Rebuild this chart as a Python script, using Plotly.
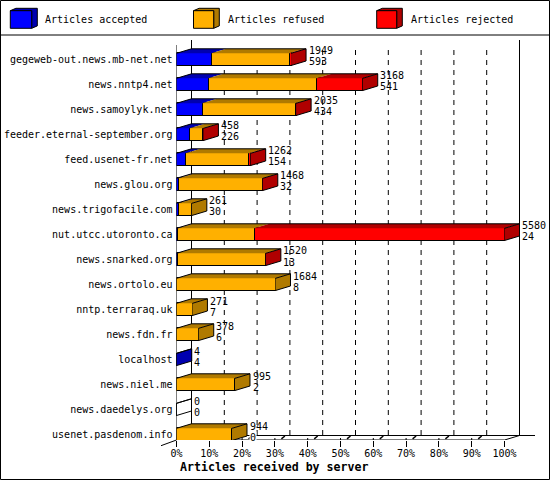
import plotly.graph_objects as go

servers = ["gegeweb-out.news.mb-net.net", "news.nntp4.net", "news.samoylyk.net",
           "feeder.eternal-september.org", "feed.usenet-fr.net", "news.glou.org",
           "news.trigofacile.com", "nut.utcc.utoronto.ca", "news.snarked.org",
           "news.ortolo.eu", "nntp.terraraq.uk", "news.fdn.fr", "localhost",
           "news.niel.me", "news.daedelys.org", "usenet.pasdenom.info"]
totals = [1949, 3168, 2035, 458, 1262, 1468, 261, 5580, 1520, 1684, 271, 378, 4, 995, 0, 944]
accepted = [593, 541, 434, 226, 154, 32, 30, 24, 13, 8, 7, 6, 4, 2, 0, 0]
refused = [1326, 1844, 1591, 222, 1078, 1426, 231, 1300, 1497, 1676, 264, 372, 0, 993, 0, 944]
rejected = [30, 783, 10, 10, 30, 10, 0, 4256, 10, 0, 0, 0, 0, 0, 0, 0]
series_names = ["Articles accepted", "Articles refused", "Articles rejected"]
front_colors = ["#0000ff", "#ffb000", "#ff0000"]
shade_colors = ["#0000b0", "#b07a00", "#b00000"]
pct_ticks = [0, 10, 20, 30, 40, 50, 60, 70, 80, 90, 100]

MAX_VAL = 5580
W, H = 550, 480
FONT = "DejaVu Sans Mono"

# pixel frame of the plot, the chart is laid out by hand like the old gd image
X0, X100, X_END = 176.5, 504.5, 535
Y_TOP, Y_FLOOR = 38, 440
ROW_PX, ROW0_PX = 25, 59.4
BAR_H = 0.488
ART_PER_PX = MAX_VAL / (X100 - X0)
DX = 15 * ART_PER_PX   # depth of the 3d effect in articles
DY = 4.5 / ROW_PX      # and in rows


def row_of(py):
    return (py - ROW0_PX) / ROW_PX


def px(x):
    return x / W


def py(y):
    return 1 - y / H


rows = list(range(len(servers)))
floor = row_of(Y_FLOOR)
x_max = (X_END - X0) * ART_PER_PX

fig = go.Figure()

# front faces
for vals, name, col in zip([accepted, refused, rejected], series_names, front_colors):
    fig.add_trace(go.Bar(y=rows, x=vals, name=name, orientation="h", width=BAR_H,
                         marker=dict(color=col, line=dict(color="black", width=1)),
                         showlegend=False))

# top and side faces
tops = [dict(x=[], y=[]) for _ in range(3)]
sides = [dict(x=[], y=[]) for _ in range(3)]
outline = dict(x=[], y=[])
for r in rows:
    top = r - BAR_H / 2
    bot = r + BAR_H / 2
    segs = [accepted[r], refused[r], rejected[r]]
    start = 0
    last = None
    for k, v in enumerate(segs):
        if v > 0:
            tops[k]["x"] += [start, start + v, start + v + DX, start + DX, start, None]
            tops[k]["y"] += [top, top, top - DY, top - DY, top, None]
            start += v
            last = k
    end = totals[r]
    if last is not None:
        sides[last]["x"] += [end, end + DX, end + DX, end, end, None]
        sides[last]["y"] += [top, top - DY, bot - DY, bot, top, None]
    outline["x"] += [0, DX, end + DX, end, None, end + DX, end + DX, end, None]
    outline["y"] += [top, top - DY, top - DY, top, None, top - DY, bot - DY, bot, None]

for k in range(3):
    for face in (tops[k], sides[k]):
        if face["x"]:
            fig.add_trace(go.Scatter(x=face["x"], y=face["y"], mode="lines", fill="toself",
                                     fillcolor=shade_colors[k], line=dict(width=0),
                                     hoverinfo="skip", showlegend=False))
fig.add_trace(go.Scatter(x=outline["x"], y=outline["y"], mode="lines",
                         line=dict(color="black", width=1),
                         hoverinfo="skip", showlegend=False))

shapes = []


def line(x0, y0, x1, y1, width=1, dash="solid", xref="x", yref="y", layer="below"):
    shapes.append(dict(type="line", x0=x0, y0=y0, x1=x1, y1=y1, xref=xref, yref=yref,
                       layer=layer, line=dict(color="black", width=width, dash=dash)))


# walls and floor
line(0, row_of(45), 0, floor)
line(DX, row_of(40), DX, floor - DY)
line(MAX_VAL + DX, row_of(40), MAX_VAL + DX, floor - DY)
line(0, floor, MAX_VAL, floor)
line(DX, floor - DY, x_max, floor - DY)
line(MAX_VAL, floor, MAX_VAL + DX, floor - DY)
line(px(161), py(445.7), px(X0), py(Y_FLOOR), xref="paper", yref="paper")

# dashed grid on the back wall and the small tick hooks on the floor
for p in pct_ticks[1:-1]:
    v = MAX_VAL * p / 100
    line(v + DX, row_of(50), v + DX, floor - DY, dash="5px,5px")
    line(v + 6.5 * ART_PER_PX, row_of(438.8), v + 10 * ART_PER_PX, row_of(436), width=1.5)
    line(v, row_of(438), v, floor)

# frame and legend
shapes.append(dict(type="rect", xref="paper", yref="paper", x0=px(0.5), x1=px(549.5),
                   y0=py(0.5), y1=py(479.5), line=dict(color="black", width=1), layer="above"))
line(px(0), py(35), px(W), py(35), xref="paper", yref="paper", layer="above")
legend_x = [(10.3, 31.7, 43.5), (193.5, 213.7, 226.7), (376.7, 396.7, 409.5)]
annotations = []
for (lx0, lx1, tx), name, col, shade in zip(legend_x, series_names, front_colors, shade_colors):
    ly0, ly1, dx, dy = 10.7, 28.3, 5.6, 2.4
    side = (f"M{px(lx0)},{py(ly0)} L{px(lx0 + dx)},{py(ly0 - dy)} L{px(lx1 + dx)},{py(ly0 - dy)} "
            f"L{px(lx1 + dx)},{py(ly1 - dy)} L{px(lx1)},{py(ly1)} L{px(lx1)},{py(ly0)} Z")
    shapes.append(dict(type="path", path=side, xref="paper", yref="paper", fillcolor=shade,
                       line=dict(color="black", width=1), layer="above"))
    shapes.append(dict(type="rect", xref="paper", yref="paper", x0=px(lx0), x1=px(lx1),
                       y0=py(ly0), y1=py(ly1), fillcolor=col,
                       line=dict(color="black", width=1), layer="above"))
    annotations.append(dict(x=px(tx), y=py(20), xref="paper", yref="paper", text=name,
                            xanchor="left", yanchor="middle", showarrow=False, borderpad=0,
                            font=dict(family=FONT, size=10, color="black")))

# value labels, total on top and accepted below
for r in rows:
    last_row = r == rows[-1]
    for txt, shift in ((totals[r], 8.4), (accepted[r], -2.6)):
        annotations.append(dict(x=totals[r] + DX, y=r, xref="x", yref="y", text=str(txt),
                                xanchor="left", yanchor="middle", xshift=1.6, yshift=shift,
                                showarrow=False, borderpad=0,
                                bgcolor="white" if last_row and shift < 0 else None,
                                font=dict(family=FONT, size=10, color="black")))

annotations.append(dict(x=px(274), y=py(467), xref="paper", yref="paper", xanchor="center",
                        yanchor="middle", text="<b>Articles received by server</b>",
                        showarrow=False, font=dict(family=FONT, size=11.6, color="black")))

fig.update_layout(
    width=W, height=H, autosize=False, barmode="stack", bargap=0,
    margin=dict(l=0, r=0, t=0, b=0, pad=0), plot_bgcolor="white", paper_bgcolor="white",
    showlegend=False, shapes=shapes, annotations=annotations,
    font=dict(family=FONT, size=10, color="black"),
    xaxis=dict(domain=[X0 / W, X_END / W], range=[0, x_max], showgrid=False, zeroline=False,
               automargin=False, tickmode="array", tickvals=[MAX_VAL * p / 100 for p in pct_ticks],
               ticktext=[f"{p}%" for p in pct_ticks], ticks="outside", ticklen=6,
               tickcolor="black", tickwidth=1, ticklabelstandoff=-2),
    yaxis=dict(domain=[1 - Y_FLOOR / H, 1 - Y_TOP / H], range=[floor, row_of(Y_TOP)],
               showgrid=False, zeroline=False, automargin=False, tickmode="array",
               tickvals=rows, ticktext=servers, ticks="", ticklabelstandoff=3),
)

fig.write_html("out.html", config=dict(displayModeBar=False),
               post_script="document.body.style.margin='0';")
